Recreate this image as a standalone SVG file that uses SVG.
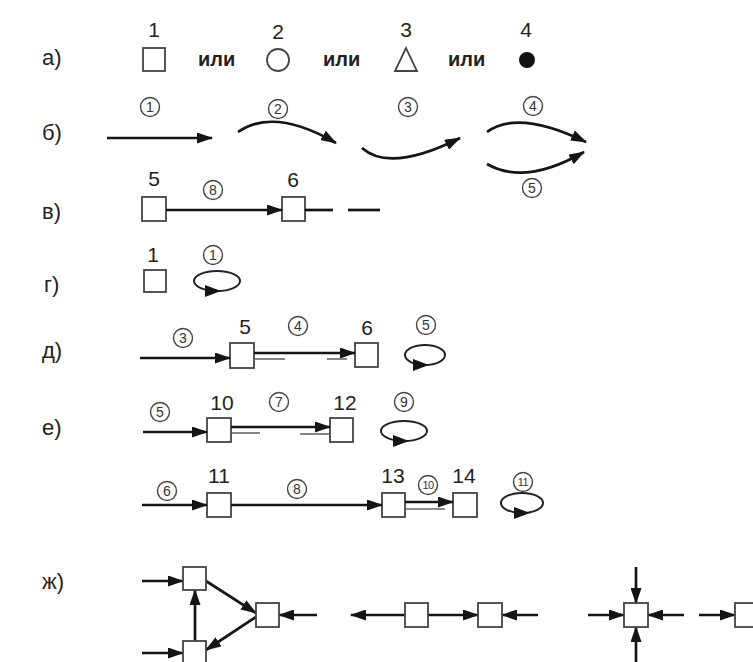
<svg xmlns="http://www.w3.org/2000/svg" width="753" height="662" viewBox="0 0 753 662">
<defs>
<style>
.lbl{font-family:"Liberation Sans",Arial,sans-serif;font-size:22px;fill:#222}
.num{font-family:"Liberation Sans",Arial,sans-serif;font-size:21px;fill:#222;text-anchor:middle}
.ili{font-family:"Liberation Sans",Arial,sans-serif;font-size:20px;font-weight:bold;fill:#222}
.cc{fill:#fff;stroke:#444;stroke-width:1.4}
.cd{font-family:"Liberation Sans",Arial,sans-serif;font-size:14px;fill:#333;text-anchor:middle}
.cd2{font-family:"Liberation Sans",Arial,sans-serif;font-size:11px;fill:#333;text-anchor:middle;letter-spacing:-0.5px}
.box{fill:#fff;stroke:#444;stroke-width:1.8}
.ln{stroke:#151515;stroke-width:2.7;fill:none}
.thin{stroke:#666;stroke-width:1.6;fill:none}
.loop{stroke:#222;stroke-width:2;fill:none}
.head{fill:#151515}
</style>
<marker id="ah" markerWidth="16" markerHeight="11" refX="15" refY="5.5" orient="auto" markerUnits="userSpaceOnUse">
<path d="M0,0 L16,5.5 L0,11 Z" fill="#151515"/>
</marker>
</defs>
<rect width="753" height="662" fill="#fff"/>

<g id="labels">
<text class="lbl" x="42" y="65">а)</text>
<text class="lbl" x="42" y="140">б)</text>
<text class="lbl" x="42" y="219">в)</text>
<text class="lbl" x="44" y="292">г)</text>
<text class="lbl" x="42" y="358">д)</text>
<text class="lbl" x="42" y="435">е)</text>
<text class="lbl" x="42" y="589">ж)</text>
</g>

<g id="row-a">
<g id="a1"><text class="num" x="154" y="37">1</text><rect class="box" x="143" y="48" width="22" height="23"/></g>
<text class="ili" x="198" y="66">или</text>
<g id="a2"><text class="num" x="278" y="39">2</text><circle cx="278" cy="60" r="11" fill="#fff" stroke="#444" stroke-width="1.8"/></g>
<text class="ili" x="323" y="66">или</text>
<g id="a3"><text class="num" x="406" y="37">3</text><polygon points="406,48 395,71 417,71" fill="#fff" stroke="#444" stroke-width="1.8"/></g>
<text class="ili" x="448" y="66">или</text>
<g id="a4"><text class="num" x="526" y="37">4</text><circle cx="527" cy="60" r="8" fill="#111"/></g>
</g>

<g id="row-b">
<g id="b-c1"><circle class="cc" cx="150" cy="107" r="9.5"/><text class="cd" x="150" y="112">1</text></g>
<g id="b-c2"><circle class="cc" cx="278" cy="109" r="9.5"/><text class="cd" x="278" y="114">2</text></g>
<g id="b-c3"><circle class="cc" cx="408" cy="107" r="9.5"/><text class="cd" x="408" y="112">3</text></g>
<g id="b-c4"><circle class="cc" cx="533" cy="106" r="9.5"/><text class="cd" x="533" y="111">4</text></g>
<g id="b-c5"><circle class="cc" cx="532" cy="188" r="9.5"/><text class="cd" x="532" y="193">5</text></g>
<g id="b-connectors">
<path class="ln" d="M107,138 L212,138" marker-end="url(#ah)"/>
<path class="ln" d="M238,132 Q274,107 336,143" marker-end="url(#ah)"/>
<path class="ln" d="M362,148 Q390,173 460,138" marker-end="url(#ah)"/>
<path class="ln" d="M487,132 Q518,109 586,142" marker-end="url(#ah)"/>
<path class="ln" d="M487,164 Q525,186 584,152" marker-end="url(#ah)"/>
</g>
</g>

<g id="row-v">
<g id="v5"><text class="num" x="154" y="186">5</text><rect class="box" x="142" y="197" width="24" height="24"/></g>
<g id="v6"><text class="num" x="293" y="187">6</text><rect class="box" x="282" y="197" width="23" height="24"/></g>
<g id="v-c8"><circle class="cc" cx="213" cy="190" r="9.5"/><text class="cd" x="213" y="195">8</text></g>
<g id="v-connectors">
<path class="ln" d="M166,210 L282,210" marker-end="url(#ah)"/>
<path class="ln" d="M305,210 L333,210"/>
<path class="ln" d="M348,210 L380,210"/>
</g>
</g>

<g id="row-g">
<g id="g1"><text class="num" x="153" y="262">1</text><rect class="box" x="144" y="270" width="22" height="22"/></g>
<g id="g-c1"><circle class="cc" cx="213" cy="255" r="9.5"/><text class="cd" x="213" y="260">1</text></g>
<g id="g-loop"><ellipse class="loop" cx="217" cy="281" rx="23" ry="10"/><polygon class="head" points="205,285 221,291 205,297"/></g>
</g>

<g id="row-d">
<g id="d-c3"><circle class="cc" cx="183" cy="338" r="9.5"/><text class="cd" x="183" y="343">3</text></g>
<g id="d5"><text class="num" x="245" y="334">5</text><rect class="box" x="230" y="343" width="24" height="25"/></g>
<g id="d-c4"><circle class="cc" cx="298" cy="326" r="9.5"/><text class="cd" x="298" y="331">4</text></g>
<g id="d6"><text class="num" x="367" y="335">6</text><rect class="box" x="355" y="343" width="23" height="24"/></g>
<g id="d-c5"><circle class="cc" cx="426" cy="325" r="9.5"/><text class="cd" x="426" y="330">5</text></g>
<g id="d-connectors">
<path class="ln" d="M140,358 L230,358" marker-end="url(#ah)"/>
<path class="ln" d="M254,353 L355,353" marker-end="url(#ah)"/>
<path class="thin" d="M254,359 L285,359"/>
<path class="thin" d="M327,359 L347,359"/>
</g>
<g id="d-loop"><ellipse class="loop" cx="425" cy="355" rx="20" ry="10"/><polygon class="head" points="413,359 429,365 413,371"/></g>
</g>

<g id="row-e1">
<g id="e1-c5"><circle class="cc" cx="160" cy="412" r="9.5"/><text class="cd" x="160" y="417">5</text></g>
<g id="e10"><text class="num" x="222" y="410">10</text><rect class="box" x="207" y="418" width="24" height="24"/></g>
<g id="e1-c7"><circle class="cc" cx="279" cy="402" r="9.5"/><text class="cd" x="279" y="407">7</text></g>
<g id="e12"><text class="num" x="345" y="410">12</text><rect class="box" x="330" y="418" width="23" height="24"/></g>
<g id="e1-c9"><circle class="cc" cx="404" cy="402" r="9.5"/><text class="cd" x="404" y="407">9</text></g>
<g id="e1-connectors">
<path class="ln" d="M143,432 L207,432" marker-end="url(#ah)"/>
<path class="ln" d="M231,427 L330,427" marker-end="url(#ah)"/>
<path class="thin" d="M231,433 L260,433"/>
<path class="thin" d="M300,434 L330,434"/>
</g>
<g id="e1-loop"><ellipse class="loop" cx="404" cy="431" rx="23" ry="10"/><polygon class="head" points="393,435 409,441 393,447"/></g>
</g>

<g id="row-e2">
<g id="e2-c6"><circle class="cc" cx="167" cy="491" r="9.5"/><text class="cd" x="167" y="496">6</text></g>
<g id="e11"><text class="num" x="219" y="483">11</text><rect class="box" x="207" y="493" width="24" height="24"/></g>
<g id="e2-c8"><circle class="cc" cx="297" cy="489" r="9.5"/><text class="cd" x="297" y="494">8</text></g>
<g id="e13"><text class="num" x="393" y="483">13</text><rect class="box" x="382" y="493" width="23" height="24"/></g>
<g id="e2-c10"><circle class="cc" cx="428" cy="485" r="9.5"/><text class="cd2" x="428" y="489">10</text></g>
<g id="e14"><text class="num" x="464" y="483">14</text><rect class="box" x="453" y="493" width="24" height="24"/></g>
<g id="e2-c11"><circle class="cc" cx="523" cy="482" r="9.5"/><text class="cd2" x="523" y="486">11</text></g>
<g id="e2-connectors">
<path class="ln" d="M142,505 L207,505" marker-end="url(#ah)"/>
<path class="ln" d="M231,505 L382,505" marker-end="url(#ah)"/>
<path class="ln" d="M405,502 L453,502" marker-end="url(#ah)"/>
<path class="thin" d="M405,509 L445,509"/>
</g>
<g id="e2-loop"><ellipse class="loop" cx="522" cy="503" rx="21" ry="10"/><polygon class="head" points="514,507 530,513 514,519"/></g>
</g>

<g id="row-zh">
<g id="zh-connectors">
<path class="ln" d="M142,581 L183,581" marker-end="url(#ah)"/>
<path class="ln" d="M142,653 L183,653" marker-end="url(#ah)"/>
<path class="ln" d="M195,641 L195,590" marker-end="url(#ah)"/>
<path class="ln" d="M206,581 L256,613" marker-end="url(#ah)"/>
<path class="ln" d="M256,617 L206,650" marker-end="url(#ah)"/>
<path class="ln" d="M317,615 L279,615" marker-end="url(#ah)"/>
<path class="ln" d="M405,615 L351,615" marker-end="url(#ah)"/>
<path class="ln" d="M428,615 L478,615" marker-end="url(#ah)"/>
<path class="ln" d="M538,615 L502,615" marker-end="url(#ah)"/>
<path class="ln" d="M636,567 L636,603" marker-end="url(#ah)"/>
<path class="ln" d="M636,662 L636,627" marker-end="url(#ah)"/>
<path class="ln" d="M588,615 L624,615" marker-end="url(#ah)"/>
<path class="ln" d="M684,615 L648,615" marker-end="url(#ah)"/>
<path class="ln" d="M699,615 L735,615" marker-end="url(#ah)"/>
</g>
<rect id="zh-n1" class="box" x="183" y="567" width="23" height="23"/>
<rect id="zh-n2" class="box" x="183" y="641" width="23" height="23"/>
<rect id="zh-n3" class="box" x="256" y="603" width="23" height="24"/>
<rect id="zh-n4" class="box" x="405" y="603" width="23" height="24"/>
<rect id="zh-n5" class="box" x="478" y="603" width="24" height="24"/>
<rect id="zh-n6" class="box" x="624" y="603" width="24" height="24"/>
<rect id="zh-n7" class="box" x="735" y="603" width="24" height="24"/>
</g>
</svg>
